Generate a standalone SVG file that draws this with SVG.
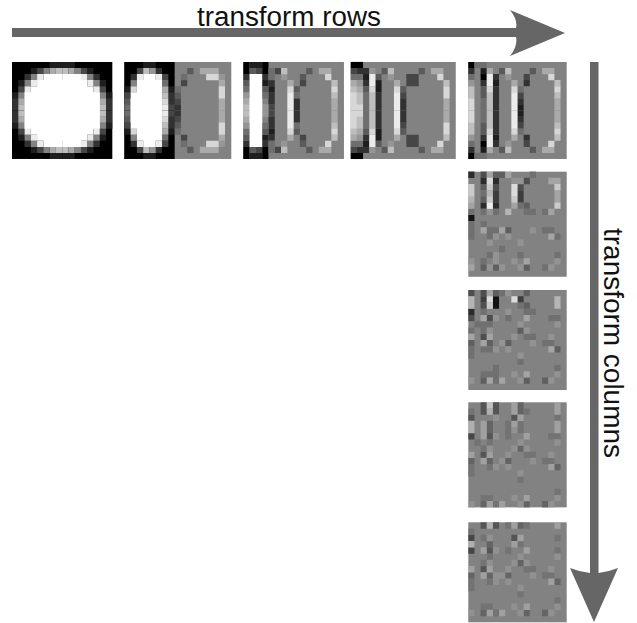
<svg xmlns="http://www.w3.org/2000/svg" xmlns:xlink="http://www.w3.org/1999/xlink" width="637" height="623" viewBox="0 0 637 623">
<style>
.a,.b,.c,.d,.e,.f,.m,.g,.h,.i,.j,.k,.l{fill:none;stroke-width:1.03}
.a{stroke:#000}.b{stroke:#1e1e1e}.c{stroke:#323232}.d{stroke:#464646}.e{stroke:#5a5a5a}.f{stroke:#6e6e6e}.m{stroke:#828282}.g{stroke:#969696}.h{stroke:#aaa}.i{stroke:#bebebe}.j{stroke:#d7d7d7}.k{stroke:#ebebeb}.l{stroke:#fff}
.bg{fill:#828282}.bk{fill:#000}.wh{fill:#fff}
.arrow{fill:#666}
.label{font-family:"Liberation Sans",Arial,sans-serif;font-size:27px;fill:#111}
.soft1{opacity:.85}.soft2{opacity:.75}
</style>
<defs>
<filter id="soft" x="-5%" y="-5%" width="110%" height="110%" color-interpolation-filters="sRGB"><feGaussianBlur stdDeviation="0.11"/></filter>
<g id="q1" transform="translate(0 .5)">
<path class="b" d="M6 0h2M3 1h1M1 3h1M0 5h1"/>
<path class="c" d="M2 2h1M0 6h1M0 7h1"/>
<path class="d" d="M4 1h1M1 4h1"/>
<path class="m" d="M5 1h1M3 2h1M2 3h1M1 5h1"/>
<path class="h" d="M6 1h1M1 6h1"/>
<path class="i" d="M7 1h1M1 7h1"/>
<path class="k" d="M4 2h1M3 3h1M2 4h1"/>
<path class="l" d="M5 2h3M4 3h4M3 4h5M2 5h6M2 6h6M2 7h6"/>
</g>
<g id="h2" transform="translate(0 .5)">
<path class="b" d="M3 0h2M0 4h1M7 4h1"/>
<path class="c" d="M5 1h1M1 2h1M7 5h1M7 6h1M8 7h1"/>
<path class="d" d="M2 1h1M6 2h1M0 5h1M7 7h1M9 3h1M8 6h1"/>
<path class="e" d="M0 6h1M10 1h1M8 5h1"/>
<path class="f" d="M0 7h1M6 3h1M9 2h1M8 4h1"/>
<path class="m" d="M1 3h1"/>
<path class="g" d="M4 1h1M15 2h1"/>
<path class="h" d="M6 4h1M12 1h3M15 3h1M15 6h1M15 7h1"/>
<path class="i" d="M3 1h1M6 5h1"/>
<path class="j" d="M1 4h1M6 6h1M13 2h2M15 4h1M15 5h1"/>
<path class="k" d="M2 2h1M5 2h1M6 7h1"/>
<path class="l" d="M3 2h2M2 3h4M2 4h4M1 5h5M1 6h5M1 7h5"/>
</g>
<g id="h3" transform="translate(0 .5)">
<path class="a" d="M0 0h1M3 0h1M0 1h1M3 1h1"/>
<path class="b" d="M1 0h2M3 3h1M4 4h1"/>
<path class="c" d="M0 2h1M3 2h1M4 3h1M4 5h1M4 6h1M8 6h1M8 7h1"/>
<path class="d" d="M2 1h1M5 1h1M9 3h1M4 7h1"/>
<path class="e" d="M1 1h1M10 1h1M9 2h1M0 3h1M3 4h1M8 4h1"/>
<path class="f" d="M4 1h1M4 2h1M0 4h1M3 5h1M8 5h1"/>
<path class="g" d="M6 2h1M0 5h1M3 7h1"/>
<path class="h" d="M12 1h2M7 3h1M0 6h1M14 6h1M14 7h1"/>
<path class="i" d="M6 1h1M14 3h1M14 5h1M0 7h1"/>
<path class="j" d="M13 2h1M7 4h1M14 4h1"/>
<path class="k" d="M7 5h1M7 6h1M7 7h1"/>
<path class="l" d="M1 2h2M1 3h2M1 4h2M1 5h2M1 6h2M1 7h2"/>
</g>
<g id="h4" transform="translate(0 .5)">
<path class="a" d="M0 0h2"/>
<path class="b" d="M2 2h1M4 3h1M4 4h1"/>
<path class="c" d="M1 1h2M2 3h1M4 5h1M4 6h1M8 6h1M4 7h1M8 7h1"/>
<path class="d" d="M0 1h1M9 2h2M9 3h2M8 5h1"/>
<path class="e" d="M5 1h1M11 1h1M4 2h1M2 4h1M8 4h1"/>
<path class="f" d="M0 2h2M2 5h1M2 6h1M2 7h1"/>
<path class="g" d="M3 1h1M6 2h1M1 3h1"/>
<path class="h" d="M13 1h2M0 3h1M7 3h1M1 4h1M15 6h1M15 7h1"/>
<path class="i" d="M6 1h1M15 3h1M0 4h1M1 5h1M3 5h1M1 6h1M3 6h1M3 7h1"/>
<path class="j" d="M14 2h1M3 4h1M7 4h1M15 4h1M0 5h1M15 5h1M0 6h1M0 7h2"/>
<path class="k" d="M3 2h1M3 3h1M7 5h1M7 6h1M7 7h1"/>
</g>
<g id="h5" transform="translate(0 .5)">
<path class="a" d="M0 0h1M2 2h1"/>
<path class="b" d="M2 1h1M4 3h1M8 7h1"/>
<path class="c" d="M0 1h1M4 2h1M2 3h1M9 3h1M4 4h1M4 5h1M4 6h1M8 6h1M4 7h1"/>
<path class="d" d="M9 2h1M8 5h1"/>
<path class="e" d="M5 1h1M10 1h1M2 4h1M2 5h1"/>
<path class="f" d="M1 0h2M0 2h1M8 4h1M2 6h1M2 7h1"/>
<path class="g" d="M6 2h1M0 3h1"/>
<path class="h" d="M3 1h1M12 1h2M7 3h1M14 6h1M14 7h1"/>
<path class="i" d="M6 1h1M14 3h1M0 4h1M0 5h1M3 5h1M14 5h1M3 6h1M3 7h1"/>
<path class="j" d="M13 2h1M3 4h1M7 4h1M14 4h1M0 6h1M0 7h1"/>
<path class="k" d="M3 2h1M3 3h1M7 5h1M7 6h1M7 7h1"/>
</g>
</defs>
<g id="connectors">
<path class="arrow" d="M12 28H516Q518 20 510 10L565 33L510 56Q518 46 516 37H12Z"/>
<path class="arrow" d="M590 62H598.5V573Q608 572 618 568L594 622L570 568Q580 572 590 573Z"/>
</g>
<g id="label-rows"><text class="label" x="197" y="26" textLength="184" lengthAdjust="spacingAndGlyphs">transform rows</text></g>
<g id="label-columns"><text class="label" transform="translate(604 228) rotate(90)" textLength="230" lengthAdjust="spacingAndGlyphs">transform columns</text></g>
<g id="img-1" filter="url(#soft)" transform="translate(12 62) scale(6.27 6.06)">
<rect class="bk" width="16" height="16"/>
<use xlink:href="#q1"/><use xlink:href="#q1" transform="matrix(-1 0 0 1 16 0)"/><use xlink:href="#q1" transform="matrix(1 0 0 -1 0 16)"/><use xlink:href="#q1" transform="matrix(-1 0 0 -1 16 16)"/>
<rect class="wh" x="6" y="3" width="4" height="10"/><rect class="wh" x="2" y="5" width="12" height="6"/>
</g>
<g id="img-2" filter="url(#soft)" transform="translate(124.3 62) scale(6.294 6.06)">
<rect class="bg" width="17" height="16"/><rect class="bk" width="8" height="16"/>
<use xlink:href="#h2"/><use xlink:href="#h2" transform="matrix(1 0 0 -1 0 16)"/>
<rect class="wh" x="1" y="6" width="5" height="4"/>
</g>
<g id="img-3" filter="url(#soft)" transform="translate(243.3 62) scale(6.29 6.06)">
<rect class="bg" width="16" height="16"/>
<use xlink:href="#h3"/><use xlink:href="#h3" transform="matrix(1 0 0 -1 0 16)"/>
<rect class="wh" x="1" y="6" width="2" height="4"/>
</g>
<g id="img-4" filter="url(#soft)" transform="translate(350.7 62) scale(6.18 6.06)">
<rect class="bg" width="17" height="16"/>
<use xlink:href="#h4"/><use xlink:href="#h4" transform="matrix(1 0 0 -1 0 16)"/>
</g>
<g id="img-5" filter="url(#soft)" transform="translate(468.3 62) scale(6.15 6.06)">
<rect class="bg" width="16" height="16"/>
<use xlink:href="#h5"/><use xlink:href="#h5" transform="matrix(1 0 0 -1 0 16)"/>
</g>
<g id="img-6" filter="url(#soft)" transform="translate(468.3 171.7) scale(6.15 6.18)">
<rect class="bg" width="16" height="17"/>
<g transform="translate(0 .5)" class="soft1">
<path class="a" d="M0 7h1"/>
<path class="b" d="M0 0h1M2 1h1M4 1h1M2 5h1M4 5h1"/>
<path class="c" d="M4 3h1M8 3h1M4 4h1M8 4h1"/>
<path class="d" d="M2 0h1M9 1h1M4 2h1M8 2h1"/>
<path class="e" d="M4 0h2M2 2h1M2 4h1M9 5h1M6 9h1M2 15h1M4 15h1M9 15h1"/>
<path class="f" d="M10 0h1M2 3h1M8 5h1M0 6h1M2 6h1M4 6h1M9 6h2M12 6h1M0 8h1M2 8h1M0 9h1M3 9h2M12 9h2M0 10h1M3 10h1M14 10h1M5 12h1M3 13h1M8 13h1M14 13h1M2 14h1M12 15h1"/>
<path class="g" d="M7 1h2M3 6h1M10 9h1M4 10h1M6 10h1M3 11h1M8 11h1M4 13h1M0 14h1M4 14h1M7 14h1M14 14h1M3 15h1M5 15h1M8 15h1M13 15h1"/>
<path class="h" d="M3 0h1M6 0h1M13 1h2M14 3h1M14 4h1M0 5h1M7 5h1M13 6h1M2 9h1M5 9h1M13 10h1M9 14h1M0 15h1"/>
<path class="i" d="M3 3h1M0 4h1M6 6h1"/>
<path class="j" d="M0 2h1M3 2h1M14 2h1M0 3h1M3 4h1M7 4h1M14 5h1"/>
<path class="k" d="M3 1h1M7 2h1M7 3h1"/>
<path class="l" d="M3 5h1"/>
</g>
</g>
<g id="img-7" filter="url(#soft)" transform="translate(468.3 290) scale(6.15 6.25)">
<rect class="bg" width="16" height="16"/>
<g transform="translate(0 .5)" class="soft1">
<path class="a" d="M4 1h1M4 2h1"/>
<path class="b" d="M0 3h1"/>
<path class="c" d="M2 1h1M8 1h1"/>
<path class="d" d="M0 0h1M2 0h1M2 2h1M0 4h1M3 4h1M2 7h1"/>
<path class="e" d="M4 0h1M9 0h1M9 2h1M8 6h1M0 8h1M3 8h1M6 8h1M14 9h1M2 14h1M9 14h1M12 14h1"/>
<path class="f" d="M5 0h1M8 2h1M2 3h1M9 3h2M6 4h1M13 4h2M1 5h3M0 6h1M2 6h1M9 7h2M12 8h2M0 9h1M2 9h2M0 10h1M8 11h1M4 12h1M14 12h1M2 13h3M4 14h1"/>
<path class="g" d="M6 0h1M6 3h1M4 4h1M8 5h1M14 5h1M3 6h1M9 6h1M7 7h1M13 7h1M5 8h1M10 8h1M4 9h1M6 9h1M8 10h1M7 13h1M14 13h1M0 14h1M8 14h1M13 14h1"/>
<path class="h" d="M3 0h1M2 4h1M9 4h1M0 7h1M3 7h1M2 8h1M13 9h1M9 13h1M3 14h1M5 14h1"/>
<path class="i" d="M0 1h1M14 1h1M0 2h1M14 2h1"/>
<path class="j" d="M3 2h1"/>
<path class="k" d="M3 1h1M7 1h1"/>
</g>
</g>
<g id="img-8" filter="url(#soft)" transform="translate(468.3 402.3) scale(6.15 6.18)">
<rect class="bg" width="16" height="17"/>
<g transform="translate(0 .5)" class="soft2">
<path class="c" d="M0 5h1"/>
<path class="d" d="M2 0h1M4 0h1M2 1h1M4 1h1M0 2h1M7 2h1M3 5h1M2 8h1"/>
<path class="e" d="M8 0h1M8 1h1M3 3h1M3 4h1M8 7h1M0 9h1M3 9h1M6 9h1M14 10h1M2 16h1M9 16h1M12 16h1"/>
<path class="f" d="M0 1h1M9 1h1M14 2h1M6 3h1M8 3h1M6 4h1M8 4h1M6 5h1M13 5h2M1 6h1M3 6h1M2 7h1M9 8h2M12 9h2M0 10h1M3 10h1M0 11h1M8 12h1M14 14h1M2 15h2M4 16h1"/>
<path class="g" d="M4 2h1M7 4h1M4 5h1M8 6h1M14 6h1M3 7h1M7 7h1M9 7h1M6 8h1M13 8h1M5 9h1M10 9h1M4 10h1M6 10h1M8 11h1M7 15h1M14 15h1M0 16h1M8 16h1M13 16h1"/>
<path class="h" d="M7 0h1M14 0h1M7 1h1M14 1h1M8 2h1M2 3h1M7 3h1M14 3h1M2 4h1M14 4h1M2 5h1M9 5h1M0 8h1M3 8h1M2 9h1M13 10h1M9 15h1M3 16h1M5 16h1"/>
<path class="i" d="M3 1h1M0 3h1M0 4h1"/>
<path class="j" d="M3 0h1"/>
</g>
</g>
<g id="img-9" filter="url(#soft)" transform="translate(468.3 522.3) scale(6.15 6.25)">
<rect class="bg" width="16" height="16"/>
<g transform="translate(0 .5)" class="soft2">
<path class="c" d="M0 2h1M0 4h1"/>
<path class="d" d="M2 0h1M4 0h1M7 2h1M3 4h1M2 7h1"/>
<path class="e" d="M8 0h1M3 3h1M8 6h1M0 8h1M3 8h1M6 8h1M14 9h1M2 14h1M9 14h1M12 14h1"/>
<path class="f" d="M6 0h1M9 0h1M0 1h1M2 2h1M14 2h1M8 3h1M6 4h1M14 4h1M3 5h1M2 6h1M9 7h2M12 8h2M0 9h1M3 9h1M0 10h1M8 11h1M14 12h1M2 13h2M4 14h1"/>
<path class="g" d="M3 2h1M4 4h1M8 5h1M14 5h1M3 6h1M7 6h1M9 6h1M6 7h1M13 7h1M4 8h2M10 8h1M4 9h1M6 9h1M8 10h1M7 13h1M14 13h1M0 14h1M8 14h1M13 14h1"/>
<path class="h" d="M7 0h1M14 0h1M8 2h1M7 3h1M2 4h1M9 4h1M0 7h1M3 7h1M2 8h1M13 9h1M9 13h1M3 14h1M5 14h1"/>
<path class="i" d="M3 0h1M0 3h1"/>
</g>
</g>
</svg>
